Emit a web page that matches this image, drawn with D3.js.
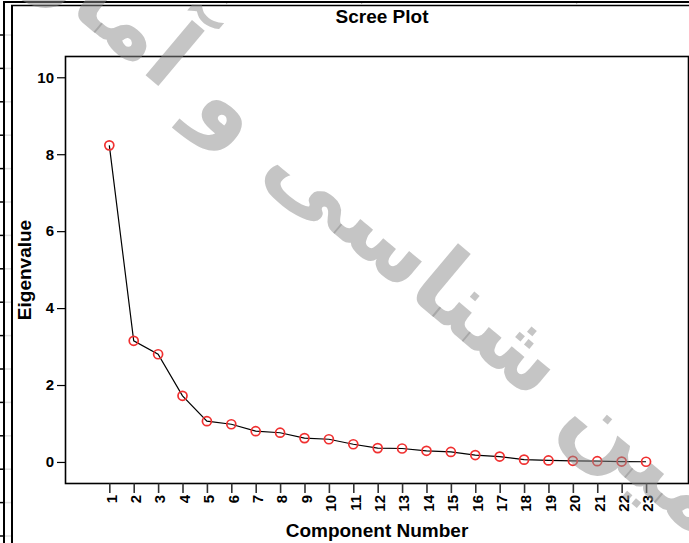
<!DOCTYPE html>
<html>
<head>
<meta charset="utf-8">
<script src="https://cdn.jsdelivr.net/npm/d3@7"></script>
<style>
  body { margin: 0; background: #fff; }
  svg { display: block; }
  text { font-family: "Liberation Sans", Arial, sans-serif; }
</style>
</head>
<body>
<script>
// scree plot values
var components = d3.range(1, 24);
var eigenvalues = [8.23, 3.15, 2.80, 1.72, 1.06, 0.98, 0.80, 0.76, 0.62, 0.59,
                   0.46, 0.36, 0.35, 0.29, 0.26, 0.18, 0.14, 0.06, 0.04, 0.03,
                   0.02, 0.01, 0.005];
var yTicks = [0, 2, 4, 6, 8, 10];
var watermark = "زمین شناسی و آمار";

var w = 689, h = 543;
var padL = 65.5, padR = 688.5, padT = 56.5, padB = 483.5;

var svg = d3.select("body").append("svg")
    .attr("width", w)
    .attr("height", h);

// frame of the page the chart sits in
var frame = svg.append("g");
d3.range(35, h, 33.4).forEach(function (y) {
    frame.append("line").attr("x1", 0).attr("x2", 4).attr("y1", y).attr("y2", y)
        .attr("stroke", "#000").attr("stroke-width", 1.5);
    frame.append("line").attr("x1", 4).attr("x2", 12).attr("y1", y).attr("y2", y)
        .attr("stroke", "#ddd").attr("stroke-width", 1.5);
});
frame.append("line").attr("x1", 4).attr("x2", 4).attr("y1", 1).attr("y2", h)
    .attr("stroke", "#000").attr("stroke-width", 2);
frame.append("line").attr("x1", 12).attr("x2", 12).attr("y1", 5).attr("y2", h)
    .attr("stroke", "#000").attr("stroke-width", 2);
frame.append("line").attr("x1", 3).attr("x2", w).attr("y1", 2).attr("y2", 2)
    .attr("stroke", "#000").attr("stroke-width", 2);
frame.append("line").attr("x1", 11).attr("x2", w).attr("y1", 5.5).attr("y2", 5.5)
    .attr("stroke", "#000").attr("stroke-width", 1.7);
[226.7, 361.7, 576.7].forEach(function (x) {
    frame.append("line").attr("x1", x).attr("x2", x).attr("y1", 3).attr("y2", 4.6)
        .attr("stroke", "#bbb").attr("stroke-width", 1);
});

svg.append("text")
    .attr("x", 382).attr("y", 23)
    .attr("text-anchor", "middle")
    .attr("font-size", 19).attr("font-weight", "bold")
    .text("Scree Plot");

var xScale = d3.scaleLinear()
    .domain([-0.796, 24.74])
    .range([padL, padR]);

var yScale = d3.scaleLinear()
    .domain([-0.56, 10.54])
    .range([padB, padT]);

svg.append("rect")
    .attr("x", padL).attr("y", padT)
    .attr("width", padR - padL).attr("height", padB - padT)
    .attr("fill", "none").attr("stroke", "#000").attr("stroke-width", 1.6);

var yAxis = d3.axisLeft(yScale)
    .tickValues(yTicks)
    .tickSizeOuter(0)
    .tickSize(8.5)
    .tickPadding(3);
var gy = svg.append("g")
    .attr("transform", "translate(" + padL + ",0)")
    .call(yAxis);
gy.select(".domain").remove();
gy.selectAll("line").attr("stroke", "#000").attr("stroke-width", 1.2);
gy.selectAll("text")
    .attr("font-size", 15)
    .attr("font-weight", "bold")
    .attr("fill", "#000")
    .style("font-family", "'Liberation Sans', Arial, sans-serif");

var xAxis = d3.axisBottom(xScale)
    .tickValues(components)
    .tickFormat(d3.format("d"))
    .tickSizeOuter(0)
    .tickSize(9.5);
var gx = svg.append("g")
    .attr("transform", "translate(0," + padB + ")")
    .call(xAxis);
gx.select(".domain").remove();
gx.selectAll("line").attr("stroke", "#333").attr("stroke-width", 1.6);
gx.selectAll("text")
    .attr("font-size", 15)
    .attr("font-weight", "bold")
    .attr("fill", "#000")
    .style("font-family", "'Liberation Sans', Arial, sans-serif")
    .attr("transform", "rotate(-90)")
    .attr("text-anchor", "end")
    .attr("x", -11.5)
    .attr("y", 1.5)
    .attr("dy", "0.35em");

svg.append("text")
    .attr("transform", "translate(31,270) rotate(-90)")
    .attr("text-anchor", "middle")
    .attr("font-size", 19).attr("font-weight", "bold")
    .text("Eigenvalue");

svg.append("text")
    .attr("x", 377).attr("y", 537)
    .attr("text-anchor", "middle")
    .attr("font-size", 19).attr("font-weight", "bold")
    .text("Component Number");

var line = d3.line()
    .x(function (d, i) { return xScale(components[i]); })
    .y(function (d) { return yScale(d); });

svg.append("path")
    .datum(eigenvalues)
    .attr("d", line)
    .attr("fill", "none")
    .attr("stroke", "#000")
    .attr("stroke-width", 1.2);

svg.selectAll("circle")
    .data(eigenvalues)
    .enter().append("circle")
    .attr("cx", function (d, i) { return xScale(components[i]); })
    .attr("cy", function (d) { return yScale(d); })
    .attr("r", 4.5)
    .attr("fill", "none")
    .attr("stroke", "#f03030")
    .attr("stroke-width", 1.7);

// grey watermark laid over the picture
svg.append("text")
    .attr("transform", "translate(400,255) rotate(40)")
    .attr("text-anchor", "middle")
    .attr("dominant-baseline", "middle")
    .attr("direction", "rtl")
    .attr("font-size", 95)
    .attr("font-weight", "bold")
    .style("font-family", "'DejaVu Sans', sans-serif")
    .attr("fill", "#8c8c8c")
    .attr("fill-opacity", 0.5)
    .text(watermark);
</script>
</body>
</html>
